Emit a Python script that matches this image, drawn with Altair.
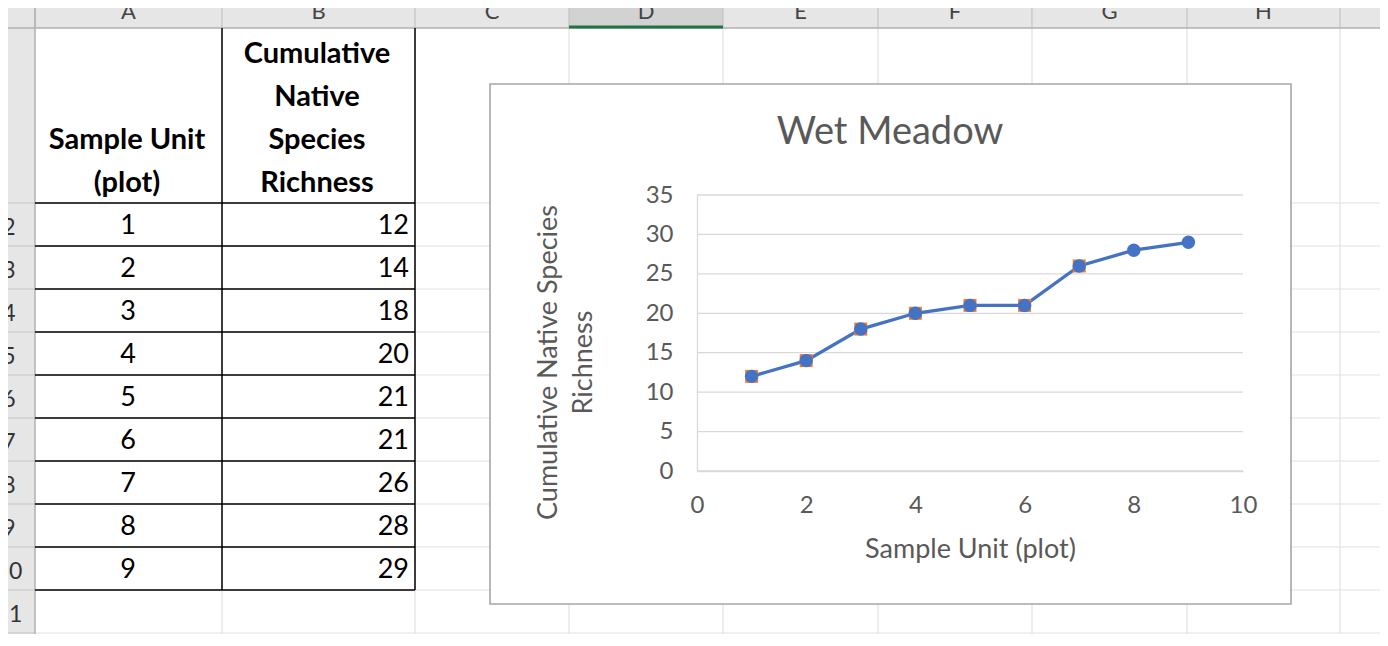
import altair as alt
import pandas as pd

# ---------------- data ----------------
units = [1, 2, 3, 4, 5, 6, 7, 8, 9]
richness = [12, 14, 18, 20, 21, 21, 26, 28, 29]
square_marker = [True, True, True, True, True, True, True, False, False]
x_ticks = [0, 2, 4, 6, 8, 10]
y_ticks = [0, 5, 10, 15, 20, 25, 30, 35]
chart_title = "Wet Meadow"
x_title = "Sample Unit (plot)"
y_title = ["Cumulative Native Species", "Richness"]
header_a = ["Sample Unit", "(plot)"]
header_b = ["Cumulative", "Native", "Species", "Richness"]
col_letters = ["A", "B", "C", "D", "E", "F", "G", "H"]
row_labels = ["2", "3", "4", "5", "6", "7", "8", "9", "10", "11"]

# ---------------- layout (page pixels) ----------------
OX, OY = 697, 195          # page position of plot-area origin
PW, PH = 546, 276          # plot-area size
SVG_W, SVG_H = 1372, 626
PAD = {"left": OX - 8, "top": OY - 8, "right": SVG_W - (OX - 8) - PW, "bottom": SVG_H - (OY - 8) - PH}
col_edges = [35, 222, 415, 569, 723, 878, 1032, 1187, 1340]
ROW_TOP, ROW_H = 203, 43
row_edges = [28] + [ROW_TOP + ROW_H * k for k in range(11)]
RIGHT, BOTTOM = 1383, 646
GRID_C, HEAD_C, BORDER_C = "#e1e1e1", "#c4c4c4", "#000000"
TXT = "#595959"
FONT = "Lato"


def X(v):
    return v - OX


def Y(v):
    return v - OY


# ----- spreadsheet background rects -----
rects = pd.DataFrame([
    dict(x=X(0), x2=X(RIGHT), y=Y(0), y2=Y(28), fill="#e6e6e6"),
    dict(x=X(569), x2=X(723), y=Y(0), y2=Y(28), fill="#d2d2d2"),
    dict(x=X(0), x2=X(35), y=Y(28), y2=Y(BOTTOM), fill="#e6e6e6"),
])

# ----- spreadsheet lines -----
rules = []
for c in col_edges[1:]:
    rules.append(dict(x=X(c), x2=X(c), y=Y(28), y2=Y(BOTTOM), c=GRID_C, w=1.2))
for r in row_edges[1:]:
    rules.append(dict(x=X(35), x2=X(RIGHT), y=Y(r), y2=Y(r), c=GRID_C, w=1.2))
for c in col_edges:
    rules.append(dict(x=X(c), x2=X(c), y=Y(0), y2=Y(28), c=HEAD_C, w=1.2))
for r in row_edges[1:]:
    rules.append(dict(x=X(0), x2=X(35), y=Y(r), y2=Y(r), c=HEAD_C, w=1.2))
rules.append(dict(x=X(0), x2=X(RIGHT), y=Y(28), y2=Y(28), c="#b0b0b0", w=1.5))
rules.append(dict(x=X(35), x2=X(35), y=Y(0), y2=Y(BOTTOM), c="#b0b0b0", w=1.5))
rules.append(dict(x=X(RIGHT), x2=X(RIGHT), y=Y(5), y2=Y(BOTTOM), c="#b8b8b8", w=1.5))
rules.append(dict(x=X(569), x2=X(723), y=Y(27), y2=Y(27), c="#217346", w=3))
for r in row_edges[1:11]:
    rules.append(dict(x=X(35), x2=X(415), y=Y(r), y2=Y(r), c=BORDER_C, w=1.5))
for c in [222, 415]:
    rules.append(dict(x=X(c), x2=X(c), y=Y(28), y2=Y(row_edges[10]), c=BORDER_C, w=1.5))
rules = pd.DataFrame(rules)

bg_rects = alt.Chart(rects).mark_rect().encode(
    x=alt.X("x:Q", scale=None), x2="x2:Q",
    y=alt.Y("y:Q", scale=None), y2="y2:Q",
    fill=alt.Fill("fill:N", scale=None),
)
bg_rules = alt.Chart(rules).mark_rule().encode(
    x=alt.X("x:Q", scale=None), x2="x2:Q",
    y=alt.Y("y:Q", scale=None), y2="y2:Q",
    color=alt.Color("c:N", scale=None),
    strokeWidth=alt.StrokeWidth("w:Q", scale=None),
)


def deco_text(df, size, weight="normal", align="center", color="#000000", baseline="middle"):
    return alt.Chart(df).mark_text(
        font=FONT, fontSize=size, fontWeight=weight, align=align, baseline=baseline, color=color
    ).encode(x=alt.X("x:Q", scale=None), y=alt.Y("y:Q", scale=None), text="text:N")


# header cells
hdr_rows = []
for i, t in enumerate(header_a):
    hdr_rows.append(dict(text=t, x=X(127), y=Y(183 - 43 * (len(header_a) - 1 - i))))
for i, t in enumerate(header_b):
    hdr_rows.append(dict(text=t, x=X(317), y=Y(183 - 43 * (len(header_b) - 1 - i))))
headers = deco_text(pd.DataFrame(hdr_rows), 29, weight="bold")

# column letters and row numbers
letters = pd.DataFrame([
    dict(text=t, x=X((col_edges[i] + col_edges[i + 1]) / 2), y=Y(19))
    for i, t in enumerate(col_letters)
])
letters_layer = deco_text(letters, 22, color="#444444", baseline="alphabetic")
rownums = pd.DataFrame([
    dict(text=t, x=X(9), y=Y(row_edges[i + 1] + ROW_H / 2 + 3))
    for i, t in enumerate(row_labels)
])
rownum_layer = deco_text(rownums, 23, color="#333333")

# table values from the data
data = pd.DataFrame({"unit": units, "richness": richness, "square": square_marker})
table = alt.Chart(data).transform_window(row="row_number()").transform_calculate(
    ty=f"{ROW_TOP + ROW_H / 2 + 1} + (datum.row - 1) * {ROW_H} - {OY}"
)
col_a = table.mark_text(font=FONT, fontSize=27, align="center", baseline="middle", color="#000000").encode(
    x=alt.value(X(128)), y=alt.Y("ty:Q", scale=None), text=alt.Text("unit:Q"))
col_b = table.mark_text(font=FONT, fontSize=27, align="right", baseline="middle", color="#000000").encode(
    x=alt.value(X(409)), y=alt.Y("ty:Q", scale=None), text=alt.Text("richness:Q"))

# chart box
one = pd.DataFrame({"k": [0]})
box = alt.Chart(one).mark_rect(fill="white", stroke="#a6a6a6", strokeWidth=1.6).encode(
    x=alt.value(X(490)), x2=alt.value(X(1291)), y=alt.value(Y(84)), y2=alt.value(Y(604)))
title_layer = alt.Chart(pd.DataFrame({"text": [chart_title]})).mark_text(
    font=FONT, fontSize=38, color=TXT, align="center", baseline="middle").encode(
    x=alt.value(X(890)), y=alt.value(Y(133)), text="text:N")

# ---------------- the scatter-with-lines chart ----------------
xs = alt.Scale(domain=[0, 10], nice=False, zero=False)
ys = alt.Scale(domain=[0, 35], nice=False, zero=False)

x_axis = alt.Axis(values=x_ticks, title=x_title, grid=False, ticks=False, tickSize=0,
                  domainColor="#d9d9d9", domainWidth=1.3, labelFont=FONT, labelFontSize=24,
                  labelColor=TXT, labelPadding=34, labelBaseline="middle", labelFlush=False,
                  labelOverlap=False, titleFont=FONT, titleFontSize=27, titleFontWeight="normal",
                  titleColor=TXT, titleX=PW / 2, titleY=78, titleBaseline="middle",
                  titleAlign="center", zindex=1)
y_axis = alt.Axis(values=y_ticks, title=y_title, grid=False, ticks=False, tickSize=0,
                  domainColor="#d9d9d9", domainWidth=1.3, labelFont=FONT, labelFontSize=24,
                  labelColor=TXT, labelPadding=24, labelFlush=False, labelOverlap=False,
                  titleFont=FONT, titleFontSize=27, titleFontWeight="normal", titleColor=TXT,
                  titleAngle=270, titleX=X(548), titleY=167, titleAlign="center",
                  titleBaseline="middle", titleLineHeight=35, zindex=1)

base = alt.Chart(data)
line = base.mark_line(color="#4472c4", strokeWidth=3.3).encode(
    x=alt.X("unit:Q", scale=xs, axis=x_axis),
    y=alt.Y("richness:Q", scale=ys, axis=y_axis),
)
grid = alt.Chart(pd.DataFrame({"tick": y_ticks})).mark_rule(color="#d9d9d9", strokeWidth=1.3).encode(
    y=alt.Y("tick:Q", scale=ys, axis=y_axis), x=alt.value(0), x2=alt.value(PW))
squares = base.transform_filter(alt.datum.square).mark_point(
    shape="square", filled=True, color="#ed7d31", size=169, opacity=1).encode(
    x=alt.X("unit:Q", scale=xs, axis=x_axis), y=alt.Y("richness:Q", scale=ys, axis=y_axis))
circles = base.mark_circle(color="#4472c4", size=180, opacity=1).encode(
    x=alt.X("unit:Q", scale=xs, axis=x_axis), y=alt.Y("richness:Q", scale=ys, axis=y_axis))

chart = alt.layer(
    bg_rects, bg_rules, headers, letters_layer, rownum_layer, col_a, col_b,
    box, title_layer, grid, line, squares, circles,
).properties(
    width=PW, height=PH, padding=PAD,
    autosize=alt.AutoSizeParams(type="none"),
    background="white",
).configure_view(stroke=None)

chart.save("out.html", embed_options={"renderer": "svg", "actions": False})
